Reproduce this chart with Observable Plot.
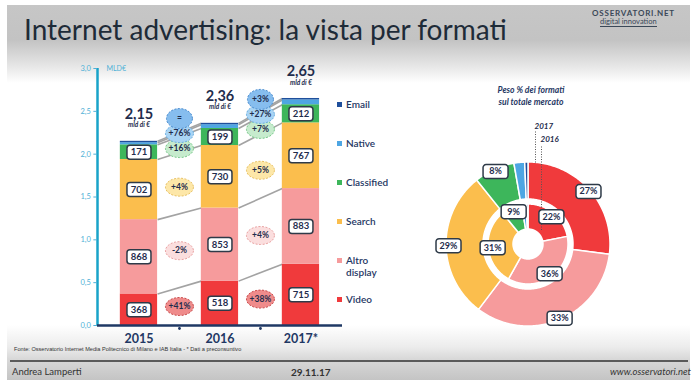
<!DOCTYPE html>
<html><head><meta charset="utf-8">
<script src="https://cdn.jsdelivr.net/npm/d3@7"></script>
<script src="https://cdn.jsdelivr.net/npm/@observablehq/plot@0.6"></script>
<style>
  body{margin:0;width:700px;height:380px;overflow:hidden;background:#fff;font-family:Lato,"Open Sans",sans-serif;}
  #slide{position:relative;width:700px;height:380px;overflow:hidden;background:#fff;}
  .abs{position:absolute;}
  #header{left:7px;top:5px;width:683px;height:78px;background:linear-gradient(to bottom,#c6c6c6 0%,#c3c3c3 45%,#e6e6e6 78%,#ffffff 100%);}
  #title{left:24px;top:12px;font-size:28px;color:#1e2b38;white-space:nowrap;letter-spacing:0px;}
  #logo1{left:592px;top:8px;font-size:8px;font-weight:bold;color:#3a4858;letter-spacing:0.8px;}
  #logo2{left:600px;top:17px;font-size:7.5px;color:#3a4858;border-bottom:1px solid #3a4858;}
  #footer{left:7px;top:325px;width:683px;height:55px;background:linear-gradient(to bottom,#ffffff 0%,#ececec 40%,#d8d8d8 62%,#c4c4c4 100%);}
  #fline{left:10px;top:360px;width:678px;height:2px;background:#5a5a5a;}
  #fonte{left:14px;top:346px;font-size:5.6px;color:#333;white-space:nowrap;font-family:"Liberation Sans",Arial,sans-serif;}
  #author{left:12px;top:366px;font-size:9.5px;color:#333;}
  #date{left:291px;top:366px;font-size:10px;font-weight:bold;color:#333;}
  #web{left:610px;top:366px;font-size:9.5px;font-style:italic;color:#333;}
  .leg{position:absolute;left:337px;font-size:10px;color:#1f3864;font-weight:600;line-height:12px;}
  .leg i{position:absolute;left:0;top:4px;width:5px;height:5px;}
  .leg span{position:absolute;left:9px;top:0;white-space:nowrap;}
  #dtitle{left:470px;top:84px;width:122px;text-align:center;font-size:8.6px;font-weight:bold;font-style:italic;color:#1f3864;line-height:12px;}
</style></head>
<body>
<div id="slide">
  <div id="header" class="abs"></div>
  <div id="title" class="abs">Internet advertising: la vista per formati</div>
  <div id="logo1" class="abs">OSSERVATORI.NET</div>
  <div id="logo2" class="abs">digital innovation</div>
  <div id="footer" class="abs"></div>
  <div id="fline" class="abs"></div>
  <div id="fonte" class="abs">Fonte: Osservatorio Internet Media Politecnico di Milano e IAB Italia - * Dati a preconsuntivo</div>
  <div id="author" class="abs">Andrea Lamperti</div>
  <div id="date" class="abs">29.11.17</div>
  <div id="web" class="abs">www.osservatori.net</div>
  <div id="bars" class="abs" style="left:0;top:50px;"></div>
  <div id="legend" class="abs" style="left:0;top:0;"></div>
  <div id="dtitle" class="abs">Peso % dei formati<br>sul totale mercato</div>
  <div id="donut" class="abs" style="left:418px;top:110px;"></div>
</div>
<script>
// ---------- data ----------
const years = ["2015", "2016", "2017*"];
const series = ["Video", "Altro display", "Search", "Classified", "Native", "Email"];
const video = [368, 518, 715];
const altroDisplay = [868, 853, 883];
const search = [702, 730, 767];
const classified = [171, 199, 212];
const native = [25, 44, 56];
const email = [16, 16, 17];
const growthVideo = ["+41%", "+38%"];
const growthAltro = ["-2%", "+4%"];
const growthSearch = ["+4%", "+5%"];
const growthClassified = ["+16%", "+7%"];
const growthNative = ["+76%", "+27%"];
const growthEmail = ["=", "+3%"];
const share2016 = ["22%", "36%", "31%", "9%"];
const share2017 = ["27%", "33%", "29%", "8%"];
const yTicks = [0, 0.5, 1, 1.5, 2, 2.5, 3];
const legendLabels = ["Email", "Native", "Classified", "Search", "Altro<br>display", "Video"];

// ---------- styles ----------
const colors = ["#f03a3c", "#f69b9c", "#fbbe4d", "#3db65b", "#4ea6e3", "#1f4f9c"];
const bubbleFill = ["#ef8b8b", "#fbdede", "#fde7a8", "#c6ebcd", "#a9d4f4", "#86bdee"];
const bubbleStroke = ["#c84b4b", "#e9a3a3", "#e8c266", "#79c98b", "#6aaee0", "#4f8fd0"];
const bubbleDy = [0, 0, 4, 4, -11, -26];
const navy = "#1f2d4d";
const axisColor = "#4fb0d6";
const HALF = 0.23;
const X_MIN = -0.512, X_MAX = 2.513;
const TICK = 0.045;

const valuesBySeries = [video, altroDisplay, search, classified, native, email];
const growthBySeries = [growthVideo, growthAltro, growthSearch, growthClassified, growthNative, growthEmail];

// symbols
function boxSym(w, h, r) {
  return {draw(ctx) {
    const x0 = -w / 2, y0 = -h / 2, x1 = w / 2, y1 = h / 2;
    ctx.moveTo(x0 + r, y0);
    ctx.lineTo(x1 - r, y0); ctx.arcTo(x1, y0, x1, y0 + r, r);
    ctx.lineTo(x1, y1 - r); ctx.arcTo(x1, y1, x1 - r, y1, r);
    ctx.lineTo(x0 + r, y1); ctx.arcTo(x0, y1, x0, y1 - r, r);
    ctx.lineTo(x0, y0 + r); ctx.arcTo(x0, y0, x0 + r, y0, r);
    ctx.closePath();
  }};
}
function ellipseSym(rx, ry) {
  const k = 0.5522847498;
  return {draw(ctx) {
    ctx.moveTo(rx, 0);
    ctx.bezierCurveTo(rx, ry * k, rx * k, ry, 0, ry);
    ctx.bezierCurveTo(-rx * k, ry, -rx, ry * k, -rx, 0);
    ctx.bezierCurveTo(-rx, -ry * k, -rx * k, -ry, 0, -ry);
    ctx.bezierCurveTo(rx * k, -ry, rx, -ry * k, rx, 0);
    ctx.closePath();
  }};
}

// ---------- stacked rows ----------
const rows = [];
const totals = [];
years.forEach((yr, i) => {
  let acc = 0;
  series.forEach((s, k) => {
    const v = valuesBySeries[k][i];
    rows.push({i, k, series: s, v, y0: acc / 1000, y1: (acc + v) / 1000, mid: (acc + v / 2) / 1000});
    acc += v;
  });
  totals.push({i, y: acc / 1000, label: (acc / 1000).toFixed(2).replace(".", ",")});
});
const cell = (i, k) => rows.find(d => d.i === i && d.k === k);

const links = [];
series.forEach((s, k) => {
  for (let g = 0; g < years.length - 1; g++) {
    links.push({x1: g + HALF, x2: g + 1 - HALF, y1: cell(g, k).y1, y2: cell(g + 1, k).y1});
  }
});

const bubbleMarks = [];
series.forEach((s, k) => {
  const data = [];
  for (let g = 0; g < years.length - 1; g++) {
    const ref = k >= 4 ? 3 : k;
    data.push({x: g + 0.5, y: (cell(g, ref).mid + cell(g + 1, ref).mid) / 2, label: growthBySeries[k][g]});
  }
  const sym = k === 5 ? ellipseSym(13, 10) : ellipseSym(14, 9);
  bubbleMarks.push(
    Plot.dot(data, {x: "x", y: "y", dy: bubbleDy[k], symbol: sym, fill: bubbleFill[k], stroke: bubbleStroke[k], strokeWidth: 1, strokeDasharray: "2,1.5"}),
    Plot.text(data, {x: "x", y: "y", dy: bubbleDy[k], text: "label", fill: navy, fontSize: 8.5, fontWeight: "bold"})
  );
});

const labelled = rows.filter(d => d.k < 4);

const bars = Plot.plot({
  width: 440, height: 300,
  marginLeft: 97, marginRight: 98, marginTop: 18, marginBottom: 25,
  x: {type: "linear", domain: [X_MIN, X_MAX], axis: null},
  y: {type: "linear", domain: [0, 3], axis: null},
  color: {domain: series, range: colors},
  style: {background: "transparent", fontFamily: "Lato, 'Open Sans', sans-serif", overflow: "visible"},
  marks: [
    Plot.link(links, {x1: "x1", x2: "x2", y1: "y1", y2: "y2", stroke: "#a3a3a3", strokeWidth: 1.6}),
    Plot.rect(rows, {x1: d => d.i - HALF, x2: d => d.i + HALF, y1: "y0", y2: "y1", fill: "series"}),
    ...bubbleMarks,
    Plot.dot(labelled, {x: "i", y: "mid", symbol: boxSym(24, 14, 3), fill: "white", stroke: "#2e3a48", strokeWidth: 1.5}),
    Plot.text(labelled, {x: "i", y: "mid", text: d => String(d.v), fill: navy, fontSize: 9.5, fontWeight: "bold"}),
    Plot.text(totals, {x: "i", y: "y", dy: -27, text: "label", fill: navy, fontSize: 14.5, fontWeight: "bold"}),
    Plot.text(totals, {x: "i", y: "y", dy: -16, text: () => "mld di €", fill: navy, fontSize: 6.5, fontWeight: "bold", fontStyle: "italic"}),
    Plot.ruleX([X_MIN], {stroke: "#19a3c9", strokeWidth: 2.5}),
    Plot.ruleY([0], {stroke: "#1f3864", strokeWidth: 2.5}),
    Plot.dot([0.5, 1.5], {x: d => d, y: 0, dy: 3, r: 1.4, fill: "#1f3864"}),
    Plot.ruleY(yTicks, {y: d => d, x1: X_MIN - TICK, x2: X_MIN, stroke: axisColor, strokeWidth: 1}),
    Plot.text(yTicks, {x: X_MIN - TICK, y: d => d, dx: -3, textAnchor: "end", text: d => d.toFixed(1).replace(".", ","), fill: axisColor, fontSize: 7.5}),
    Plot.text(["MLD€"], {x: X_MIN, y: 3, dx: 9, textAnchor: "start", text: d => d, fill: axisColor, fontSize: 7}),
    Plot.text(years, {x: (d, i) => i, y: 0, dy: 13, text: d => d, fill: "#1f3864", fontSize: 12.5, fontWeight: "bold"})
  ]
});
document.getElementById("bars").append(bars);

// legend (HTML)
const legendY = [98, 137, 176, 215, 254, 293];
const leg = document.getElementById("legend");
legendLabels.forEach((lab, j) => {
  const k = series.length - 1 - j;
  const div = document.createElement("div");
  div.className = "leg";
  div.style.top = legendY[j] + "px";
  div.innerHTML = `<i style="background:${colors[k]}"></i><span>${lab}</span>`;
  leg.append(div);
});

// ---------- donut ----------
const RINGS = [
  {year: "2017", values: valuesBySeries.map(v => v[2]), rIn: 45, rOut: 82, rLab: 80, labels: share2017},
  {year: "2016", values: valuesBySeries.map(v => v[1]), rIn: 15, rOut: 40, rLab: 36, labels: share2016}
];
const ringPts = [];
const ringLabels = [];
RINGS.forEach(ring => {
  const tot = d3.sum(ring.values);
  let acc = 0;
  ring.values.forEach((v, k) => {
    const a0 = acc / tot * 2 * Math.PI, a1 = (acc + v) / tot * 2 * Math.PI;
    const n = Math.max(2, Math.ceil((a1 - a0) / (Math.PI / 180)));
    for (let j = 0; j <= n; j++) {
      const a = a0 + (a1 - a0) * j / n;
      ringPts.push({key: ring.year + "-" + k, series: series[k],
        xi: ring.rIn * Math.sin(a), yi: ring.rIn * Math.cos(a),
        xo: ring.rOut * Math.sin(a), yo: ring.rOut * Math.cos(a)});
    }
    if (ring.labels[k]) {
      const am = (a0 + a1) / 2;
      ringLabels.push({x: ring.rLab * Math.sin(am), y: ring.rLab * Math.cos(am), label: ring.labels[k]});
    }
    acc += v;
  });
});

const pointers = [
  {label: "2017", x: 7, yTop: 113, yBot: 81, ty: 118},
  {label: "2016", x: 13, yTop: 98, yBot: 14, ty: 105}
];

const donut = Plot.plot({
  width: 220, height: 250, margin: 0,
  x: {domain: [-110, 110], axis: null},
  y: {domain: [-116, 134], axis: null},
  color: {domain: series, range: colors},
  style: {background: "transparent", fontFamily: "Lato, 'Open Sans', sans-serif", overflow: "visible"},
  marks: [
    Plot.area(ringPts, {x1: "xi", y1: "yi", x2: "xo", y2: "yo", z: "key", fill: "series", stroke: "white", strokeWidth: 1.5}),
    Plot.link(pointers, {x1: "x", x2: "x", y1: "yTop", y2: "yBot", stroke: "#555", strokeWidth: 1, strokeDasharray: "1,1.5"}),
    Plot.text(pointers, {x: "x", y: "ty", text: "label", textAnchor: "start", dx: -1, fill: navy, fontSize: 8, fontWeight: "bold", fontStyle: "italic"}),
    Plot.dot(ringLabels, {x: "x", y: "y", symbol: boxSym(25, 14, 3), fill: "white", stroke: "#2e3a48", strokeWidth: 1.5}),
    Plot.text(ringLabels, {x: "x", y: "y", text: "label", fill: navy, fontSize: 9, fontWeight: "bold"})
  ]
});
document.getElementById("donut").append(donut);
</script>
</body></html>
